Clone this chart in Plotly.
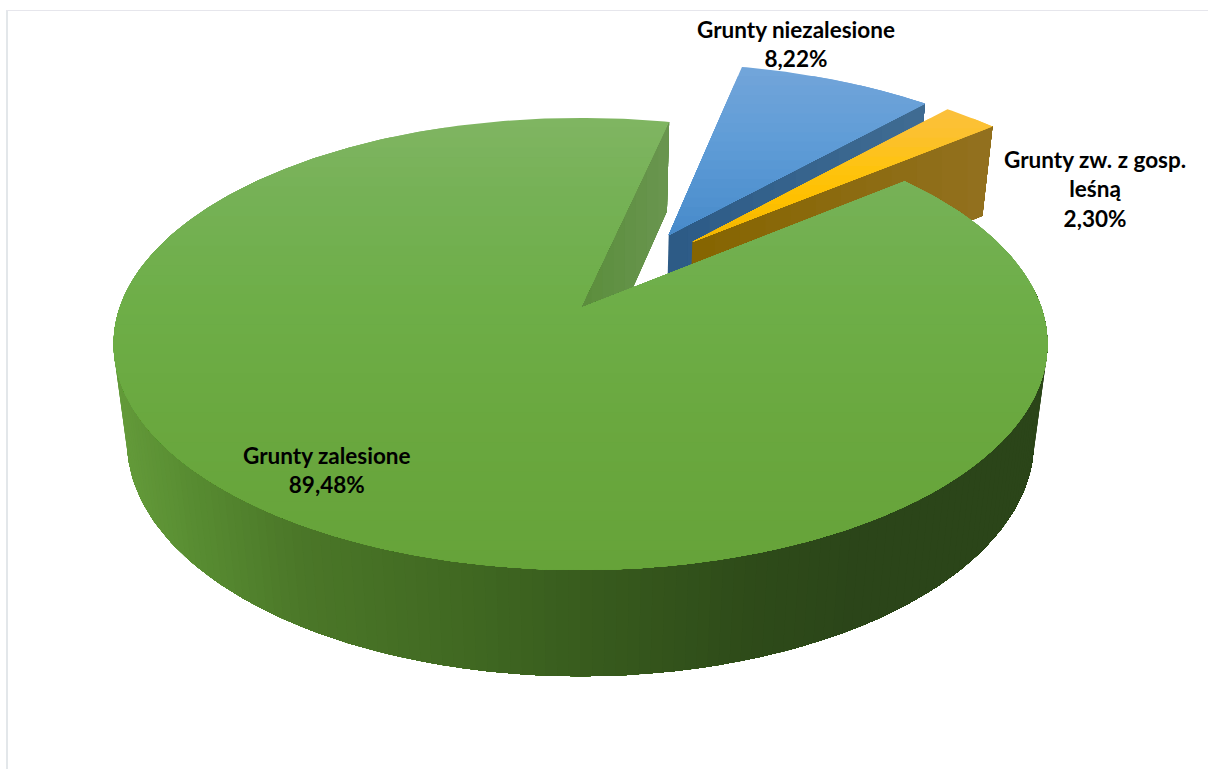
import math
import plotly.graph_objects as go

# ---- data ----
categories = ["Grunty zalesione", "Grunty niezalesione", "Grunty zw. z gosp.<br>leśną"]
values = [89.48, 8.22, 2.30]

# ---- style and layout constants ----
START_ANGLE = 50.7
EXPLODE = [(0.0, 0.0), (0.202, 0.350), (0.2547, 0.315)]
LABEL_POS = [(327, 470), (796, 44), (1095, 189)]
X0, Y0, A, a, b, c, D = 580.5, 308, 461, 220.3, 0.159, 0.029, 100

TOP_STOPS = [
    [(118, "#80b562"), (200, "#75b155"), (300, "#6eae48"), (420, "#6aa83f"), (570, "#66a339")],
    [(68, "#72a5da"), (150, "#5d9bd6"), (236, "#478aca")],
    [(110, "#fbc03c"), (135, "#fcc12e"), (170, "#fec30d"), (200, "#ffc000"), (245, "#f0b400")],
]
WALL_STOPS = [(113, "#659c3b"), (200, "#578b31"), (300, "#4b7728"), (450, "#416a22"),
              (600, "#375a1d"), (750, "#2e4b19"), (860, "#2b4519"), (1047, "#2b4519")]
FACE_STOPS = [
    [(582, "#5b8d3c"), (672, "#6a9650")],
    [(668, "#2c5a86"), (925, "#406c93")],
    [(692, "#866500"), (992, "#92701f")],
]
BAND_COUNTS = [46, 18, 14]


def hex_rgb(h):
    return tuple(int(h[i:i + 2], 16) for i in (1, 3, 5))


def colour_at(stops, v):
    if v <= stops[0][0]:
        return stops[0][1]
    for (p, cp), (q, cq) in zip(stops, stops[1:]):
        if v <= q:
            t = (v - p) / (q - p)
            m = [round(u + (w - u) * t) for u, w in zip(hex_rgb(cp), hex_rgb(cq))]
            return "rgb(%d,%d,%d)" % tuple(m)
    return stops[-1][1]


def proj(px, py, h=0.0):
    w = 1 + b * py + c * h
    return X0 + A * px / w, Y0 + (-a * py + D * h) / w


def rim(theta, off, h=0.0):
    r = math.radians(theta)
    return proj(off[0] + math.sin(r), off[1] + math.cos(r), h)


def clip(poly, axis, limit):
    out = []
    for i, p in enumerate(poly):
        q = poly[(i + 1) % len(poly)]
        pin, qin = p[axis] >= limit, q[axis] >= limit
        if pin:
            out.append(p)
        if pin != qin:
            t = (limit - p[axis]) / (q[axis] - p[axis])
            out.append((p[0] + (q[0] - p[0]) * t, p[1] + (q[1] - p[1]) * t))
    return out


fig = go.Figure()


def add_poly(poly, colour, name=""):
    if len(poly) < 3:
        return
    fig.add_trace(go.Scatter(
        x=[p[0] for p in poly] + [poly[0][0]], y=[p[1] for p in poly] + [poly[0][1]],
        mode="lines", fill="toself", fillcolor=colour, line=dict(width=0),
        hoverinfo="skip", showlegend=False, name=name))


def add_graded(poly, axis, stops, n, name=""):
    lo = min(p[axis] for p in poly)
    hi = max(p[axis] for p in poly)
    for k in range(n):
        lim = lo + (hi - lo) * k / n - (1 if k == 0 else 0)
        add_poly(clip(poly, axis, lim), colour_at(stops, lo + (hi - lo) * (k + .5) / n), name)


# angular spans from values
spans, ang = [], START_ANGLE
for v in values:
    spans.append((ang, ang + v / sum(values) * 360))
    ang = spans[-1][1]


def face(i, theta):
    off = EXPLODE[i]
    return [proj(off[0], off[1]), rim(theta, off), rim(theta, off, 1), proj(off[0], off[1], 1)]


def top(i):
    s, e = spans[i]
    n = max(6, int((e - s) * 1.5))
    return [proj(*EXPLODE[i])] + [rim(s + (e - s) * j / n, EXPLODE[i]) for j in range(n + 1)]


# back-to-front painting
add_graded(face(1, spans[1][1]), 0, FACE_STOPS[1], 12, categories[1])
add_graded(top(1), 1, TOP_STOPS[1], BAND_COUNTS[1], categories[1])
add_graded(face(2, spans[2][1]), 0, FACE_STOPS[2], 12, categories[2])
add_graded(top(2), 1, TOP_STOPS[2], BAND_COUNTS[2], categories[2])
add_graded(face(0, spans[0][1] - 360), 0, FACE_STOPS[0], 8, categories[0])

# outer wall of the main slice, left to right
W_START, W_END, W_N = 275.0, 85.0, 150
for k in range(W_N):
    t0 = W_START + (W_END - W_START) * k / W_N
    n = W_N - k
    ths = [t0 + (W_END - t0) * j / max(n, 1) for j in range(n + 1)]
    poly = [rim(t, EXPLODE[0]) for t in ths] + [rim(t, EXPLODE[0], 1) for t in reversed(ths)]
    tm = t0 + (W_END - W_START) * .5 / W_N
    xm = (rim(tm, EXPLODE[0])[0] + rim(tm, EXPLODE[0], 1)[0]) / 2
    add_poly(poly, colour_at(WALL_STOPS, xm), categories[0])

add_graded(top(0), 1, TOP_STOPS[0], BAND_COUNTS[0], categories[0])

annotations = [
    dict(x=px, y=py, xref="x", yref="y", showarrow=False, align="center",
         text="<b>%s<br>%s%%</b>" % (cat, ("%.2f" % v).replace(".", ",")),
         font=dict(family="Lato", size=22.5, color="#000000"))
    for cat, v, (px, py) in zip(categories, values, LABEL_POS)
]

fig.update_layout(
    width=1208, height=769, margin=dict(l=0, r=0, t=0, b=0),
    paper_bgcolor="#ffffff", plot_bgcolor="#ffffff", showlegend=False,
    xaxis=dict(range=[0, 1208], visible=False, fixedrange=True),
    yaxis=dict(range=[769, 0], visible=False, fixedrange=True),
    annotations=annotations,
    shapes=[
        dict(type="line", xref="x", yref="y", x0=7, x1=7, y0=10, y1=769, line=dict(color="#e3e7ea", width=2)),
        dict(type="line", xref="x", yref="y", x0=6, x1=1208, y0=10.5, y1=10.5, line=dict(color="#e6e6ec", width=1)),
    ],
)
fig.write_html("out.html", config=dict(displayModeBar=False),
               post_script="document.body.style.margin='0';")
